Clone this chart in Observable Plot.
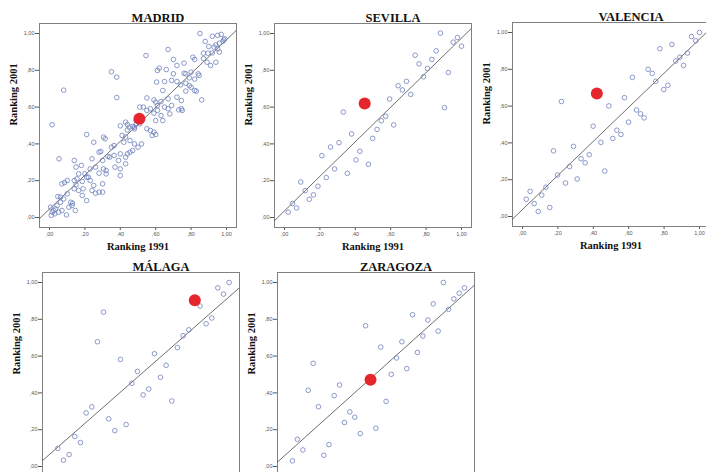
<!DOCTYPE html>
<html><head><meta charset="utf-8">
<script src="https://cdn.jsdelivr.net/npm/d3@7"></script>
<script src="https://cdn.jsdelivr.net/npm/@observablehq/plot@0.6"></script>
<style>
html,body{margin:0;padding:0;background:#fff;overflow:hidden;}
#wrap{position:relative;width:706px;height:472px;overflow:hidden;background:#fff;}
#wrap svg{position:absolute;max-width:none;}
</style></head><body><div id="wrap"></div>
<script>
const tickValues = [0, 0.2, 0.4, 0.6, 0.8, 1];
const tickLabels = [",00", ",20", ",40", ",60", ",80", "1,00"];
const xLabel = "Ranking 1991";
const yLabel = "Ranking 2001";
const cities = ["MADRID", "SEVILLA", "VALENCIA", "MÁLAGA", "ZARAGOZA"];

// [ranking 1991, ranking 2001]
const madrid = [
[0.85,1.00],[0.92,0.985],[0.95,0.99],[0.97,0.995],
[0.88,0.957],[0.99,0.971],[0.94,0.938],[0.96,0.947],[0.98,0.958],[0.985,0.966],
[0.67,0.913],[0.90,0.929],[0.93,0.926],[0.95,0.917],[0.87,0.893],[0.895,0.893],[0.96,0.899],[0.92,0.895],
[0.545,0.88],[0.70,0.859],[0.81,0.871],[0.82,0.859],[0.87,0.864],[0.76,0.839],[0.72,0.826],[0.89,0.844],[0.94,0.844],[0.91,0.826],
[0.35,0.792],[0.61,0.799],[0.62,0.812],[0.66,0.804],[0.77,0.781],[0.76,0.784],[0.80,0.79],[0.84,0.781],[0.79,0.759],[0.82,0.752],[0.845,0.772],[0.38,0.763],[0.70,0.781],[0.69,0.745],[0.72,0.739],
[0.65,0.739],[0.74,0.721],[0.77,0.73],[0.79,0.717],[0.80,0.708],[0.82,0.69],[0.83,0.687],[0.605,0.736],[0.64,0.69],[0.08,0.692],[0.77,0.687],
[0.38,0.652],[0.86,0.639],[0.55,0.65],[0.59,0.639],[0.60,0.627],[0.63,0.63],[0.67,0.645],[0.69,0.609],[0.72,0.654],[0.745,0.636],[0.745,0.591],[0.73,0.585],[0.75,0.582],[0.67,0.591],[0.65,0.60],[0.61,0.609],[0.57,0.591],
[0.51,0.60],[0.53,0.60],[0.55,0.582],[0.59,0.567],[0.61,0.582],[0.63,0.554],[0.64,0.527],[0.68,0.563],[0.60,0.527],[0.505,0.545],[0.52,0.536],[0.49,0.527],[0.49,0.509],[0.51,0.509],[0.48,0.482],
[0.44,0.505],[0.47,0.495],[0.40,0.498],[0.43,0.518],[0.45,0.491],[0.48,0.491],[0.44,0.476],[0.55,0.482],[0.57,0.473],[0.59,0.464],[0.60,0.451],[0.58,0.446],
[0.015,0.504],[0.21,0.451],[0.305,0.437],[0.315,0.428],[0.365,0.391],[0.35,0.382],[0.41,0.446],[0.43,0.437],[0.455,0.418],[0.48,0.40],[0.52,0.40],[0.47,0.364],[0.50,0.382],[0.42,0.409],[0.25,0.409],
[0.28,0.355],[0.29,0.359],[0.33,0.332],[0.34,0.328],[0.365,0.337],[0.40,0.346],[0.44,0.346],[0.455,0.355],[0.24,0.319],[0.30,0.31],[0.39,0.31],[0.43,0.328],
[0.054,0.319],[0.14,0.31],[0.15,0.274],[0.18,0.283],[0.23,0.264],[0.26,0.274],[0.305,0.264],[0.32,0.255],[0.37,0.274],[0.40,0.264],[0.43,0.292],[0.20,0.237],[0.28,0.241],[0.165,0.237],[0.40,0.228],
[0.07,0.183],[0.085,0.19],[0.10,0.201],[0.14,0.201],[0.155,0.21],[0.185,0.196],[0.21,0.219],[0.22,0.219],[0.23,0.201],[0.25,0.174],[0.30,0.183],[0.32,0.237],[0.15,0.178],
[0.047,0.114],[0.062,0.111],[0.14,0.156],[0.165,0.147],[0.19,0.156],[0.24,0.147],[0.26,0.132],[0.28,0.138],[0.30,0.138],[0.185,0.12],[0.10,0.129],[0.21,0.092],[0.12,0.083],[0.13,0.078],[0.08,0.101],
[0.006,0.056],[0.015,0.029],[0.024,0.038],[0.034,0.047],[0.043,0.065],[0.052,0.029],[0.07,0.038],[0.096,0.014],[0.11,0.056],[0.127,0.065],[0.146,0.038],[0.062,0.083],[0.01,0.012],[0.03,0.02]
];
const sevilla = [
[0.881,1.002],[0.977,0.978],[0.953,0.953],[1.0,0.931],[0.857,0.906],[0.738,0.882],[0.760,0.835],[0.832,0.859],
[0.808,0.810],[0.785,0.765],[0.926,0.788],[0.689,0.740],[0.642,0.716],[0.666,0.693],[0.713,0.669],[0.594,0.644],
[0.904,0.597],[0.332,0.573],[0.547,0.526],[0.572,0.550],[0.617,0.503],[0.523,0.479],[0.379,0.454],[0.498,0.430],
[0.308,0.407],[0.260,0.383],[0.426,0.360],[0.211,0.336],[0.404,0.313],[0.474,0.289],[0.283,0.264],[0.355,0.240],
[0.236,0.217],[0.092,0.193],[0.189,0.170],[0.117,0.146],[0.164,0.123],[0.140,0.099],[0.045,0.076],[0.068,0.052],[0.021,0.029]
];
const valencia = [
[1.0,1.0],[0.955,0.978],[0.979,0.955],[0.844,0.935],[0.776,0.912],[0.932,0.888],[0.889,0.866],[0.866,0.845],
[0.910,0.821],[0.710,0.800],[0.733,0.778],[0.621,0.756],[0.753,0.735],[0.821,0.713],[0.798,0.690],[0.576,0.646],
[0.220,0.625],[0.488,0.601],[0.644,0.579],[0.667,0.558],[0.687,0.536],[0.599,0.513],[0.399,0.491],[0.533,0.469],
[0.556,0.446],[0.510,0.424],[0.443,0.403],[0.288,0.381],[0.175,0.357],[0.377,0.336],[0.331,0.314],[0.354,0.292],
[0.266,0.271],[0.465,0.247],[0.198,0.226],[0.309,0.204],[0.243,0.182],[0.132,0.159],[0.043,0.137],[0.109,0.116],
[0.021,0.094],[0.066,0.070],[0.154,0.049],[0.089,0.027]
];
const malaga = [
[0.998,1.0],[0.934,0.971],[0.966,0.937],[0.834,0.872],[0.288,0.839],[0.868,0.776],[0.900,0.807],[0.770,0.743],
[0.738,0.711],[0.254,0.678],[0.706,0.646],[0.576,0.613],[0.384,0.582],[0.642,0.550],[0.480,0.517],[0.610,0.485],
[0.448,0.452],[0.544,0.421],[0.512,0.389],[0.674,0.356],[0.222,0.324],[0.190,0.291],[0.318,0.259],[0.416,0.228],
[0.352,0.195],[0.126,0.163],[0.158,0.130],[0.030,0.098],[0.094,0.065],[0.062,0.034]
];
const zaragoza = [
[0.881,1.0],[1.0,0.971],[0.970,0.942],[0.940,0.911],[0.823,0.884],[0.910,0.854],[0.706,0.825],[0.793,0.796],
[0.441,0.765],[0.765,0.709],[0.851,0.736],[0.646,0.678],[0.527,0.649],[0.734,0.620],[0.616,0.590],[0.145,0.561],
[0.674,0.532],[0.586,0.501],[0.294,0.443],[0.117,0.414],[0.264,0.385],[0.557,0.354],[0.175,0.325],[0.352,0.297],
[0.380,0.268],[0.322,0.239],[0.411,0.179],[0.499,0.208],[0.056,0.148],[0.234,0.119],[0.087,0.090],[0.205,0.061],[0.028,0.031]
];
const highlight = [[0.508,0.537],[0.453,0.620],[0.420,0.668],[0.804,0.904],[0.469,0.472]];
const intercepts = [0.046, 0.036, 0.038, 0.080, 0.073];
const slopes = [0.920, 0.939, 0.926, 0.844, 0.864];

const series = [madrid, sevilla, valencia, malaga, zaragoza];
// frame top-left corner of each panel on the page; bottom row's x axis lies below the picture
const frames = [[39,23],[274,23],[512,22],[42,272],[277,272]];
const hasXAxis = [true, true, true, false, false];

const ML = 40, MT = 24, MR = 6, MB = 30, FW = 197, FH = 204;
const xd = [-10/177, 1 + 10/177];
const yd = [-10/184, 1 + 10/184];
const fmt = d => tickLabels[tickValues.indexOf(d)];
const wrap = document.getElementById("wrap");
const serif = "'Liberation Serif', 'Times New Roman', serif";

series.forEach((pts, i) => {
  const data = pts.map(([x, y]) => ({x, y}));
  const fit = xd.map(x => ({x, y: intercepts[i] + slopes[i] * x}));
  const marks = [
    Plot.axisY(tickValues, {tickFormat: fmt, tickSize: 4, tickPadding: 1, fontSize: 5.5, color: "#555", label: null}),
    Plot.frame({stroke: "#808080", strokeWidth: 1}),
    Plot.line(fit, {x: "x", y: "y", stroke: "#4a4a4a", strokeWidth: 0.8, clip: true}),
    Plot.dot(data, {x: "x", y: "y", r: 2.3, stroke: "#6f80bd", strokeWidth: 0.8, fill: "none"}),
    Plot.dot([highlight[i]], {x: d => d[0], y: d => d[1], r: 6, fill: "#e5262c"}),
    Plot.text([cities[i]], {text: d => d, frameAnchor: "top", dx: 20, dy: -6, lineAnchor: "middle",
      fontFamily: serif, fontWeight: "bold", fontSize: 12.5, fill: "#111"}),
    Plot.text([yLabel], {text: d => d, frameAnchor: "left", dx: -25.5, rotate: -90, lineAnchor: "middle",
      fontFamily: serif, fontWeight: "bold", fontSize: 10.5, fill: "#111"})
  ];
  if (hasXAxis[i]) {
    marks.unshift(Plot.axisX(tickValues, {tickFormat: fmt, tickSize: 3, tickPadding: 2, fontSize: 5.5, color: "#555", label: null}));
    marks.push(Plot.text([xLabel], {text: d => d, frameAnchor: "bottom", dx: 0, dy: 19, lineAnchor: "middle",
      fontFamily: serif, fontWeight: "bold", fontSize: 10.5, fill: "#111"}));
  }
  const svg = Plot.plot({
    width: ML + FW + MR, height: MT + FH + (hasXAxis[i] ? MB : 0),
    marginLeft: ML, marginRight: MR, marginTop: MT, marginBottom: hasXAxis[i] ? MB : 0,
    style: {fontFamily: "'Liberation Sans', Arial, sans-serif", background: "transparent", overflow: "visible"},
    x: {domain: xd, axis: null},
    y: {domain: yd, axis: null},
    marks
  });
  svg.style.left = (frames[i][0] - ML) + "px";
  svg.style.top = (frames[i][1] - MT) + "px";
  wrap.appendChild(svg);
});
</script></body></html>
